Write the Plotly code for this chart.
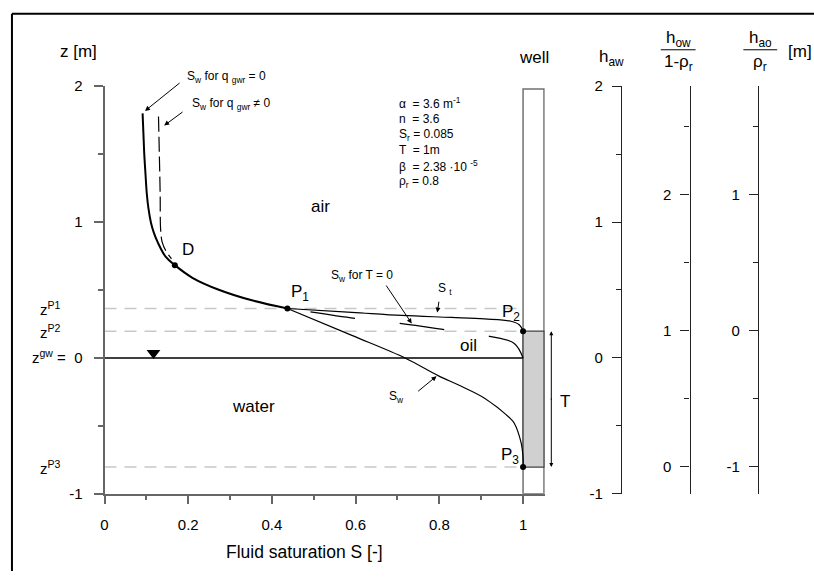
import plotly.graph_objects as go

# ---------------- data ----------------
# water saturation above P1 (no groundwater recharge), from top of profile down to P1
sw_top_S = [0.091, 0.093, 0.095, 0.098, 0.101, 0.105, 0.111, 0.118, 0.127, 0.146, 0.168, 0.210, 0.273, 0.352, 0.437]
sw_top_z = [1.80, 1.65, 1.50, 1.35, 1.21, 1.10, 0.995, 0.92, 0.852, 0.745, 0.683, 0.590, 0.502, 0.424, 0.364]

# water saturation with recharge (dashed), joining the main curve near D
swq_S = [0.129, 0.131, 0.133, 0.134, 0.138, 0.148, 0.160]
swq_z = [1.776, 1.50, 1.20, 0.95, 0.85, 0.78, 0.73]

# water saturation below P1 down to P3
sw_low_S = [0.437, 0.591, 0.718, 0.797, 0.850, 0.908, 0.971, 0.979, 0.995, 1.0, 1.0]
sw_low_z = [0.364, 0.166, 0.0, -0.13, -0.205, -0.296, -0.45, -0.48, -0.62, -0.735, -0.803]

# total liquid saturation from P1 to P2
st_S = [0.437, 0.591, 0.710, 0.829, 0.908, 0.971, 0.991, 1.0]
st_z = [0.364, 0.336, 0.313, 0.298, 0.287, 0.270, 0.244, 0.197]

# water saturation without oil (T = 0)
swT0_S = [0.492, 0.599, 0.706, 0.813, 0.920, 0.979, 1.0]
swT0_z = [0.339, 0.291, 0.254, 0.208, 0.159, 0.107, 0.0]

# characteristic points
pt_names = ["P1", "P2", "P3", "D"]
pt_S = [0.437, 1.0, 1.0, 0.168]
pt_z = [0.364, 0.197, -0.803, 0.683]
z_P1, z_P2, z_P3 = pt_z[0], pt_z[1], pt_z[2]

# groundwater table symbol
gw_S = [0.117]
gw_z = [0.037]

# well
well_S = [1.0, 1.05]
well_z = [-1.0, 1.98]

# parameter block
params = ["α  = 3.6 m<sup>-1</sup>", "n  = 3.6", "S<sub>r</sub> = 0.085",
          "T  = 1m", "β  = 2.38 ·10 <sup>-5</sup>", "ρ<sub>r</sub> = 0.8"]

# axis ticks
x_ticks = [0, 0.2, 0.4, 0.6, 0.8, 1.0]
x_ticktext = ["0", "0.2", "0.4", "0.6", "0.8", "1"]
z_ticks = [-1, 0, 1, 2]
z_ticktext = ["-1", "z<sup>gw</sup> =  0", "1", "2"]
haw_ticks = [-1, 0, 1, 2]
how_ticks = [0, 1, 2]
hao_ticks = [-1, 0, 1]

W, H = 814, 579
FONT = "Liberation Sans, Arial, sans-serif"
PX_PER_Z = 140.0  # vertical pixels per metre

fig = go.Figure()

# reference levels of P1, P2, P3
for zl in (z_P1, z_P2, z_P3):
    fig.add_trace(go.Scatter(x=[0, well_S[0]], y=[zl, zl], mode="lines",
                             line=dict(color="#c8c8c8", width=1.5, dash="12px,8px"),
                             hoverinfo="skip", showlegend=False))

# groundwater table
fig.add_trace(go.Scatter(x=[0, well_S[0]], y=[0, 0], mode="lines",
                         line=dict(color="black", width=1.5),
                         hoverinfo="skip", showlegend=False))

# saturation curves
fig.add_trace(go.Scatter(x=swq_S, y=swq_z, mode="lines", line_shape="spline",
                         line=dict(color="black", width=1.2, dash="15px,5px"),
                         hoverinfo="skip", showlegend=False))
fig.add_trace(go.Scatter(x=sw_top_S, y=sw_top_z, mode="lines", line_shape="spline",
                         line=dict(color="black", width=2),
                         hoverinfo="skip", showlegend=False))
fig.add_trace(go.Scatter(x=sw_low_S, y=sw_low_z, mode="lines", line_shape="spline",
                         line=dict(color="black", width=1.2),
                         hoverinfo="skip", showlegend=False))
fig.add_trace(go.Scatter(x=st_S, y=st_z, mode="lines", line_shape="spline",
                         line=dict(color="black", width=1.2),
                         hoverinfo="skip", showlegend=False))
fig.add_trace(go.Scatter(x=swT0_S, y=swT0_z, mode="lines", line_shape="spline",
                         line=dict(color="black", width=1.2, dash="45px,45px"),
                         hoverinfo="skip", showlegend=False))

# characteristic points
fig.add_trace(go.Scatter(x=pt_S, y=pt_z, mode="markers",
                         marker=dict(color="black", size=6), cliponaxis=False,
                         hoverinfo="skip", showlegend=False))

# water table symbol
fig.add_trace(go.Scatter(x=gw_S, y=gw_z, mode="markers",
                         marker=dict(symbol="triangle-down", color="black", size=12),
                         hoverinfo="skip", showlegend=False))

# empty traces so that the head axes are rendered
for ya in ("y2", "y3", "y4"):
    fig.add_trace(go.Scatter(x=[None], y=[None], yaxis=ya, mode="lines",
                             hoverinfo="skip", showlegend=False))

shapes = [
    # well casing
    dict(type="rect", xref="x", yref="y", x0=well_S[0], x1=well_S[1], y0=well_z[0], y1=well_z[1],
         line=dict(color="#707070", width=1.5), fillcolor="white", layer="below"),
    # oil lens in the well
    dict(type="rect", xref="x", yref="y", x0=well_S[0], x1=well_S[1], y0=z_P3, y1=z_P2,
         line=dict(color="#404040", width=1.2), fillcolor="#d0d0d0", layer="below"),
    # frame
    dict(type="line", xref="paper", yref="paper", x0=8 / W, x1=1, y0=1 - 5 / H, y1=1 - 5 / H,
         line=dict(color="black", width=2)),
    dict(type="line", xref="paper", yref="paper", x0=8 / W, x1=8 / W, y0=0, y1=1 - 5 / H,
         line=dict(color="black", width=2)),
    # fraction bars of the head labels
    dict(type="line", xref="paper", yref="paper", x0=660 / W, x1=695 / W, y0=1 - 42 / H, y1=1 - 42 / H,
         line=dict(color="black", width=1)),
    dict(type="line", xref="paper", yref="paper", x0=743 / W, x1=777 / W, y0=1 - 42 / H, y1=1 - 42 / H,
         line=dict(color="black", width=1)),
]

ann = []


def text(x, y, s, size=17, xanchor="center", xref="x", yref="y"):
    ann.append(dict(x=x, y=y, xref=xref, yref=yref, text=s, showarrow=False,
                    xanchor=xanchor, yanchor="middle",
                    font=dict(size=size, color="black", family=FONT)))


def arrow(x, y, ax, ay):
    ann.append(dict(x=x, y=y, ax=ax, ay=ay, xref="x", yref="y", axref="x", ayref="y",
                    text="", showarrow=True, arrowhead=2, arrowsize=1, arrowwidth=1,
                    arrowcolor="black"))


# region labels
text(0.515, 1.111, "air")
text(0.356, -0.36, "water")
text(0.869, 0.089, "oil")
text(0.20, 0.796, "D")
text(0.466, 0.475, "P<sub>1</sub>")
text(0.971, 0.332, "P<sub>2</sub>")
text(0.969, -0.718, "P<sub>3</sub>")

# oil thickness T in the well
text(564 / W, (z_P2 + z_P3) / 2 - 0.02, "T", xref="paper")
half = (z_P2 - z_P3) / 2 * PX_PER_Z
for zt, off in ((z_P2, half), (z_P3, -half)):
    ann.append(dict(x=550 / W, y=zt, xref="paper", yref="y", ax=0, ay=off,
                    text="", showarrow=True, arrowhead=2, arrowsize=0.8, arrowwidth=1,
                    arrowcolor="black"))

# curve labels with arrows
text(182 / W, 1 - 70 / H, "S<sub>w</sub> for q <sub>gwr</sub> = 0", size=12, xanchor="left",
     xref="paper", yref="paper")
arrow(0.0967, 1.818, 0.183, 2.032)
text(0.204, 1.868, "S<sub>w</sub> for q <sub>gwr</sub> ≠ 0", size=12, xanchor="left")
arrow(0.1425, 1.71, 0.19, 1.818)
text(0.615, 0.604, "S<sub>w</sub> for T = 0", size=12)
arrow(0.734, 0.254, 0.6706, 0.544)
text(0.793, 0.504, "S <sub>t</sub>", size=12, xanchor="left")
arrow(0.795, 0.334, 0.7995, 0.425)
text(0.698, -0.289, "S<sub>w</sub>", size=12)
arrow(0.7933, -0.134, 0.7458, -0.254)

# parameter block
for i, p in enumerate(params):
    text(0.698, (359.5 - (97 + 16.2 * i)) / PX_PER_Z, p, size=12, xanchor="left")

# left labels for the reference levels
for lab, zl in (("z<sup>P1</sup>", z_P1), ("z<sup>P2</sup>", z_P2), ("z<sup>P3</sup>", z_P3)):
    text(34 / W, zl, lab, size=15, xanchor="left", xref="paper")

# column headers
text(75 / W, 1 - 44 / H, "z [m]", xref="paper", yref="paper")
text(533 / W, 1 - 50 / H, "well", xref="paper", yref="paper")
text(610 / W, 1 - 50 / H, "h<sub>aw</sub>", xref="paper", yref="paper")
text(677.5 / W, 1 - 31 / H, "h<sub>ow</sub>", xref="paper", yref="paper")
text(677.5 / W, 1 - 56 / H, "1-ρ<sub>r</sub>", xref="paper", yref="paper")
text(760 / W, 1 - 31 / H, "h<sub>ao</sub>", xref="paper", yref="paper")
text(760 / W, 1 - 56 / H, "ρ<sub>r</sub>", xref="paper", yref="paper")
text(800 / W, 1 - 44 / H, "[m]", xref="paper", yref="paper")

# x-axis title
text(302 / W, 1 - 559 / H, "Fluid saturation S [-]", size=17.5, xref="paper", yref="paper")

ydom = [(H - 499.5) / H, (H - 79.5) / H]
tickfont = dict(size=15, color="black", family=FONT)

head_axis = dict(overlaying="y", anchor="free", side="left", showgrid=False, zeroline=False,
                 showline=True, linecolor="#222", linewidth=1.3, ticks="outside", ticklen=9,
                 tickcolor="#222", tickwidth=1.2, tickfont=tickfont, ticklabelstandoff=6,
                 minor=dict(ticks="outside", ticklen=5, tickcolor="#222", dtick=0.5, tick0=0))


def labels(vals):
    return [str(v) for v in vals]


fig.update_layout(
    width=W, height=H, margin=dict(l=0, r=0, t=0, b=0),
    paper_bgcolor="white", plot_bgcolor="white",
    font=dict(family=FONT, color="black"),
    showlegend=False,
    xaxis=dict(domain=[101 / W, 543.5 / W], range=[0, 1.052], showgrid=False, zeroline=False,
               showline=True, linecolor="#666", linewidth=2, ticks="outside", ticklen=8,
               tickcolor="#666", tickwidth=1.5, tickvals=x_ticks, ticktext=x_ticktext,
               tickfont=tickfont, ticklabelstandoff=8,
               minor=dict(ticks="outside", ticklen=4, tickcolor="#666", dtick=0.1, tick0=0)),
    yaxis=dict(domain=ydom, range=[-1, 2], showgrid=False, zeroline=False,
               showline=True, linecolor="#666", linewidth=2, ticks="outside", ticklen=9,
               tickcolor="#666", tickwidth=1.5, tickvals=z_ticks, ticktext=z_ticktext,
               tickfont=tickfont, ticklabelstandoff=8,
               minor=dict(ticks="outside", ticklen=5, tickcolor="#666", dtick=0.5, tick0=0)),
    yaxis2=dict(head_axis, range=[-1, 2], position=620 / W,
                tickvals=haw_ticks, ticktext=labels(haw_ticks)),
    yaxis3=dict(head_axis, range=[-0.2, 2.8], position=689 / W,
                tickvals=how_ticks, ticktext=labels(how_ticks)),
    yaxis4=dict(head_axis, range=[-1.2, 1.8], position=757.7 / W,
                tickvals=hao_ticks, ticktext=labels(hao_ticks)),
    shapes=shapes,
    annotations=ann,
)

fig.write_html("out.html")
